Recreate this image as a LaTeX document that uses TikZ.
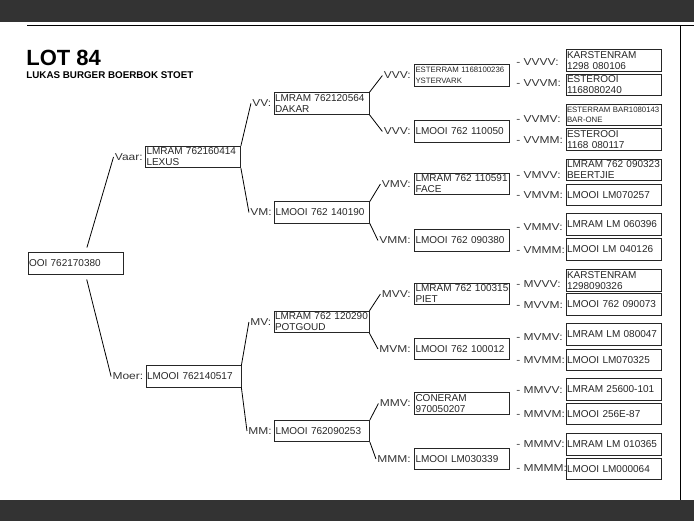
\documentclass[tikz,border=0pt]{standalone}
\usepackage{fontspec}
\setmainfont{Liberation Sans}
\newfontfamily\lblfont[FakeStretch=1.2]{Liberation Sans}
\usetikzlibrary{positioning}
\tikzset{
  box/.style={draw=black!85, line width=0.8pt, minimum width=95pt, minimum height=21.5pt,
    text width=93pt, inner xsep=1pt, inner ysep=1pt, align=left, text=black!85,
    font=\fontsize{10}{11}\selectfont},
  smallbox/.style={box, font=\fontsize{7.8}{10.5}\selectfont},
  lbl/.style={inner sep=1pt, text=black!80, font=\lblfont\fontsize{10}{10}\selectfont},
}
\begin{document}
\begin{tikzpicture}[x=1pt, y=-1pt, line width=0.8pt]
\useasboundingbox (0,0) rectangle (694,521);
\fill[black!80] (0,0) rectangle (694,22);
\fill[black!80] (0,500) rectangle (694,521);
\draw[line width=1pt] (27,26) -- (694,26);
\draw[line width=0.6pt] (680,26) -- (680,500);

\node[anchor=north west, inner sep=0pt, font=\fontsize{22}{22}\selectfont\bfseries] (lot) at (26,50) {LOT 84};
\node[anchor=north west, inner sep=0pt, font=\fontsize{9.8}{10}\selectfont\bfseries] (naam) at (26,71) {LUKAS BURGER BOERBOK STOET};

\node[box] (root) at (75.5,263.5) {OOI 762170380};

\node[box] (vaar) at (193,157) {LMRAM~762160414\\LEXUS};
\node[box] (moer) at (193.5,376.5) {LMOOI~762140517};
\node[lbl, left=1pt of vaar] (lvaar) {Vaar:};
\node[lbl, left=1pt of moer] (lmoer) {Moer:};

\node[box] (vv) at (321.5,103.5) {LMRAM~762120564\\DAKAR};
\node[box] (vm) at (322,212.5) {LMOOI~762~140190};
\node[box] (mv) at (321.5,322) {LMRAM~762~120290\\POTGOUD};
\node[box] (mm) at (322,431) {LMOOI~762090253};
\node[lbl, left=1pt of vv] (lvv) {VV:};
\node[lbl, left=1pt of vm] (lvm) {VM:};
\node[lbl, left=1pt of mv] (lmv) {MV:};
\node[lbl, left=1pt of mm] (lmm) {MM:};

\node[smallbox] (vvv) at (462,75.5) {ESTERRAM~1168100236\\YSTERVARK};
\node[box] (vvm) at (462,131.5) {LMOOI~762~110050};
\node[box] (vmv) at (462,184) {LMRAM~762~110591\\FACE};
\node[box] (vmm) at (462,240.5) {LMOOI~762~090380};
\node[box] (mvv) at (462,294) {LMRAM~762~100315\\PIET};
\node[box] (mvm) at (462,349) {LMOOI~762~100012};
\node[box] (mmv) at (462,403.5) {CONERAM\\970050207};
\node[box] (mmm) at (462,459) {LMOOI~LM030339};
\node[lbl, left=2pt of vvv] (lvvv) {VVV:};
\node[lbl, left=2pt of vvm] (lvvm) {VVV:};
\node[lbl, left=2pt of vmv] (lvmv) {VMV:};
\node[lbl, left=2pt of vmm] (lvmm) {VMM:};
\node[lbl, left=2pt of mvv] (lmvv) {MVV:};
\node[lbl, left=2pt of mvm] (lmvm) {MVM:};
\node[lbl, left=2pt of mmv] (lmmv) {MMV:};
\node[lbl, left=2pt of mmm] (lmmm) {MMM:};

\node[box] (vvvv) at (613.5,60.5) {KARSTENRAM\\1298~080106};
\node[box] (vvvm) at (613.5,85) {ESTEROOI\\1168080240};
\node[smallbox] (vvmv) at (613.5,115) {ESTERRAM~BAR1080143\\BAR-ONE};
\node[box] (vvmm) at (613.5,139.5) {ESTEROOI\\1168~080117};
\node[box] (vmvv) at (613.5,170) {LMRAM~762~090323\\BEERTJIE};
\node[box] (vmvm) at (613.5,195) {LMOOI~LM070257};
\node[box] (vmmv) at (613.5,224.5) {LMRAM~LM~060396};
\node[box] (vmmm) at (613.5,249.5) {LMOOI~LM~040126};
\node[box] (mvvv) at (613.5,280.5) {KARSTENRAM\\1298090326};
\node[box] (mvvm) at (613.5,304.5) {LMOOI~762~090073};
\node[box] (mvmv) at (613.5,334.5) {LMRAM~LM~080047};
\node[box] (mvmm) at (613.5,360) {LMOOI~LM070325};
\node[box] (mmvv) at (613.5,389.5) {LMRAM~25600-101};
\node[box] (mmvm) at (613.5,414) {LMOOI~256E-87};
\node[box] (mmmv) at (613.5,444.5) {LMRAM~LM~010365};
\node[box] (mmmm) at (613.5,469) {LMOOI~LM000064};
\node[lbl, anchor=west] (lvvvv) at (515,62) {- VVVV:};
\node[lbl, anchor=west] (lvvvm) at (515,83) {- VVVM:};
\node[lbl, anchor=west] (lvvmv) at (515,119) {- VVMV:};
\node[lbl, anchor=west] (lvvmm) at (515,140) {- VVMM:};
\node[lbl, anchor=west] (lvmvv) at (515,175) {- VMVV:};
\node[lbl, anchor=west] (lvmvm) at (515,195) {- VMVM:};
\node[lbl, anchor=west] (lvmmv) at (515,227) {- VMMV:};
\node[lbl, anchor=west] (lvmmm) at (515,250) {- VMMM:};
\node[lbl, anchor=west] (lmvvv) at (515,284) {- MVVV:};
\node[lbl, anchor=west] (lmvvm) at (515,305) {- MVVM:};
\node[lbl, anchor=west] (lmvmv) at (515,337.5) {- MVMV:};
\node[lbl, anchor=west] (lmvmm) at (515,360) {- MVMM:};
\node[lbl, anchor=west] (lmmvv) at (515,390.5) {- MMVV:};
\node[lbl, anchor=west] (lmmvm) at (515,414.5) {- MMVM:};
\node[lbl, anchor=west] (lmmmv) at (515,444) {- MMMV:};
\node[lbl, anchor=west] (lmmmm) at (515,468.5) {- MMMM:};

\draw[shorten <=5pt] ([xshift=10pt]root.north) -- (lvaar.west);
\draw[shorten <=5pt] ([xshift=10pt]root.south) -- (lmoer.west);
\draw (vaar.north east) -- (lvv.west);
\draw (vaar.south east) -- (lvm.west);
\draw (moer.north east) -- (lmv.west);
\draw (moer.south east) -- (lmm.west);
\draw (vv.north east) -- (lvvv.west);
\draw (vv.south east) -- (lvvm.west);
\draw (vm.north east) -- (lvmv.west);
\draw (vm.south east) -- (lvmm.west);
\draw (mv.north east) -- (lmvv.west);
\draw (mv.south east) -- (lmvm.west);
\draw (mm.north east) -- (lmmv.west);
\draw (mm.south east) -- (lmmm.west);
\end{tikzpicture}
\end{document}
